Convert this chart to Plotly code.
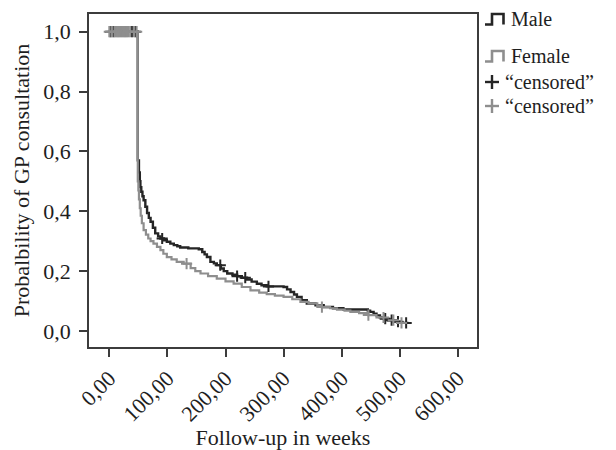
import numpy as np
import plotly.graph_objects as go

# Kaplan-Meier estimates: time to GP consultation (weeks)
male_weeks = [0, 49, 51, 52.5, 53.5, 55, 57, 59, 62, 65, 68, 71, 75, 79, 84, 88, 94, 99,
              105, 111, 117, 122, 136, 154, 160, 164, 168, 174, 180, 185, 192, 197, 203,
              212, 220, 228, 237, 245, 254, 262, 271, 300, 306, 312, 318, 323, 331, 340,
              355, 369, 385, 403, 445, 449, 455, 460, 466, 472, 480, 490, 500, 515]
male_surv = [1.0, 0.57, 0.53, 0.50, 0.48, 0.465, 0.45, 0.437, 0.415, 0.394, 0.378, 0.365,
             0.345, 0.326, 0.316, 0.309, 0.303, 0.298, 0.292, 0.287, 0.283, 0.279, 0.276,
             0.273, 0.264, 0.256, 0.247, 0.231, 0.226, 0.220, 0.209, 0.200, 0.192, 0.188,
             0.183, 0.178, 0.172, 0.165, 0.158, 0.153, 0.149, 0.147, 0.139, 0.130, 0.122,
             0.114, 0.103, 0.092, 0.086, 0.080, 0.076, 0.072, 0.068, 0.064, 0.058, 0.052,
             0.046, 0.041, 0.036, 0.031, 0.027, 0.027]

female_weeks = [0, 49, 50, 51, 52.5, 54, 56, 59, 63, 67, 71, 76, 82, 88, 93, 99, 107, 116,
                128, 140, 148, 157, 170, 185, 200, 214, 228, 243, 258, 271, 285, 300, 315,
                329, 343, 358, 366, 380, 392, 405, 415, 430, 446, 460, 475, 490, 500, 507]
female_surv = [1.0, 0.50, 0.47, 0.44, 0.41, 0.385, 0.36, 0.337, 0.322, 0.309, 0.300, 0.292,
               0.281, 0.270, 0.258, 0.247, 0.239, 0.231, 0.225, 0.210, 0.200, 0.192, 0.183,
               0.175, 0.166, 0.158, 0.147, 0.136, 0.128, 0.123, 0.118, 0.114, 0.106, 0.097,
               0.092, 0.086, 0.080, 0.076, 0.0716, 0.068, 0.064, 0.060, 0.053, 0.045, 0.036,
               0.030, 0.027, 0.027]

# Censoring times
male_censored = [2, 7, 39, 45, 91, 191, 220, 234, 274, 475, 486, 497, 511]
female_censored = [0, 4, 9, 11, 13, 15, 17, 19, 21, 23, 25, 27, 29, 31, 33, 36, 42, 47,
                   133, 366, 446, 472, 489, 503]

x_tick_vals = [0, 100, 200, 300, 400, 500, 600]
x_tick_text = ["0,00", "100,00", "200,00", "300,00", "400,00", "500,00", "600,00"]
y_tick_vals = [0.0, 0.2, 0.4, 0.6, 0.8, 1.0]
y_tick_text = ["0,0", "0,2", "0,4", "0,6", "0,8", "1,0"]

legend_labels = ["Male", "Female", "\u201ccensored\u201d", "\u201ccensored\u201d"]

MALE_COLOR = "#252525"
FEMALE_COLOR = "#8e8e8e"
AXIS_COLOR = "#3c3c3c"
FONT = "Liberation Serif"


def surv_at(times, surv, t):
    """Value of the step function at time t (right-continuous)."""
    idx = np.searchsorted(np.asarray(times), t, side="right") - 1
    return float(np.asarray(surv)[max(idx, 0)])


fig = go.Figure()

fig.add_trace(go.Scatter(x=male_weeks, y=male_surv, mode="lines", line_shape="hv",
                         line=dict(color=MALE_COLOR, width=2.4), name="Male",
                         showlegend=False))
fig.add_trace(go.Scatter(x=female_weeks, y=female_surv, mode="lines", line_shape="hv",
                         line=dict(color=FEMALE_COLOR, width=2.2), name="Female",
                         showlegend=False))
fig.add_trace(go.Scatter(x=male_censored,
                         y=[surv_at(male_weeks, male_surv, t) for t in male_censored],
                         mode="markers", name="censored (male)", showlegend=False,
                         marker=dict(symbol="cross-thin", size=8,
                                     line=dict(color=MALE_COLOR, width=2))))
fig.add_trace(go.Scatter(x=female_censored,
                         y=[surv_at(female_weeks, female_surv, t) for t in female_censored],
                         mode="markers", name="censored (female)", showlegend=False,
                         marker=dict(symbol="cross-thin", size=8,
                                     line=dict(color=FEMALE_COLOR, width=2))))

# Plot area in pixels
L, T, W, H = 89, 14, 388, 333


def px(x):
    return (x - L) / W


def py(y):
    return (T + H - y) / H


shapes = []
annotations = []
row_y = [19, 56, 82, 106]
row_colors = [MALE_COLOR, FEMALE_COLOR, MALE_COLOR, FEMALE_COLOR]
LEGEND_SIZE = 20

# Step-line icons for the two survival curves
for i in range(2):
    yc = row_y[i]
    yb, yt = yc + 5.5, yc - 5
    path = (f"M {px(485)},{py(yb)} L {px(492)},{py(yb)} L {px(492)},{py(yt)} "
            f"L {px(503.5)},{py(yt)} L {px(503.5)},{py(yb)}")
    shapes.append(dict(type="path", xref="paper", yref="paper", path=path,
                       line=dict(color=row_colors[i], width=2.6)))
    annotations.append(dict(x=px(509), y=py(yc), xref="paper", yref="paper",
                            text=legend_labels[i], showarrow=False, xanchor="left",
                            yanchor="middle",
                            font=dict(family=FONT, size=LEGEND_SIZE, color="#1e1e1e")))

# Cross icons for censoring marks
for i in range(2, 4):
    yc = row_y[i]
    shapes.append(dict(type="line", xref="paper", yref="paper",
                       x0=px(485), x1=px(499), y0=py(yc), y1=py(yc),
                       line=dict(color=row_colors[i], width=2.4)))
    shapes.append(dict(type="line", xref="paper", yref="paper",
                       x0=px(492), x1=px(492), y0=py(yc - 7), y1=py(yc + 7),
                       line=dict(color=row_colors[i], width=2.4)))
    annotations.append(dict(x=px(503), y=py(yc), xref="paper", yref="paper",
                            text=legend_labels[i], showarrow=False, xanchor="left",
                            yanchor="middle",
                            font=dict(family=FONT, size=LEGEND_SIZE, color="#1e1e1e")))

fig.update_layout(
    width=616, height=450,
    margin=dict(l=L, r=616 - L - W, t=T, b=450 - T - H, autoexpand=False),
    paper_bgcolor="white", plot_bgcolor="white",
    font=dict(family=FONT, size=22, color="#1e1e1e"),
    shapes=shapes, annotations=annotations,
    xaxis=dict(range=[-35, 633], tickvals=x_tick_vals, ticktext=x_tick_text,
               tickangle=-45, ticks="outside", ticklen=8, tickwidth=1.5,
               tickcolor=AXIS_COLOR, showline=True, linecolor=AXIS_COLOR,
               linewidth=1.5, mirror=True, showgrid=False, zeroline=False,
               tickfont=dict(family=FONT, size=22),
               title=dict(text="Follow-up in weeks", standoff=14,
                          font=dict(family=FONT, size=22))),
    yaxis=dict(range=[-0.0535, 1.059], tickvals=y_tick_vals, ticktext=y_tick_text,
               ticks="outside", ticklen=8, tickwidth=1.5, tickcolor=AXIS_COLOR,
               showline=True, linecolor=AXIS_COLOR, linewidth=1.5, mirror=True,
               showgrid=False, zeroline=False, ticklabelstandoff=4,
               tickfont=dict(family=FONT, size=22),
               title=dict(text="Probalbility of GP consultation", standoff=8,
                          font=dict(family=FONT, size=22))),
)

fig.write_html("out.html")
